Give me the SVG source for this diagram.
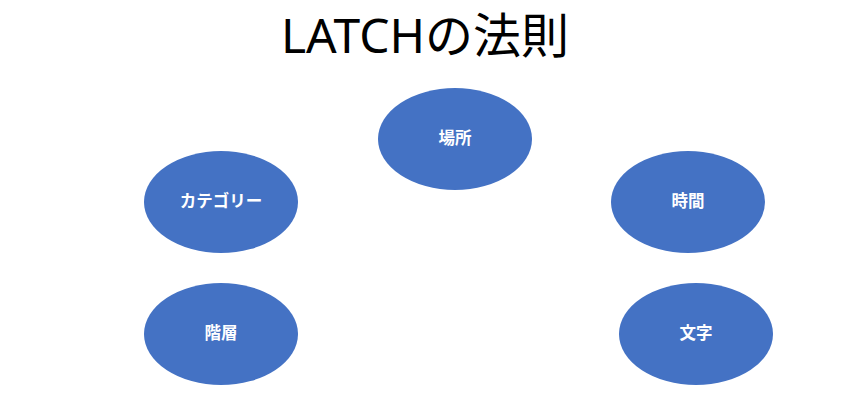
<svg xmlns="http://www.w3.org/2000/svg" width="850" height="400" viewBox="0 0 850 400">
<style>
.n{fill:#4472C4;}
.t{fill:#FFFFFF;font-family:"Noto Sans CJK JP","Noto Sans",sans-serif;font-size:16.5px;font-weight:bold;text-anchor:middle;dominant-baseline:central;}
.title{fill:#000000;font-family:"Noto Sans","Noto Sans CJK JP",sans-serif;font-size:48px;text-anchor:middle;}
</style>
<rect width="850" height="400" fill="#FFFFFF"/>
<text class="title" x="425" y="53">LATCHの法則</text>
<g id="connectors"></g>
<g id="node-basho"><ellipse class="n" cx="455" cy="139" rx="77" ry="51"/><text class="t" x="455" y="137">場所</text></g>
<g id="node-category"><ellipse class="n" cx="221" cy="202" rx="77" ry="51"/><text class="t" x="221" y="200">カテゴリー</text></g>
<g id="node-jikan"><ellipse class="n" cx="688" cy="202" rx="77" ry="51"/><text class="t" x="688" y="200">時間</text></g>
<g id="node-kaisou"><ellipse class="n" cx="221" cy="334" rx="77" ry="51"/><text class="t" x="221" y="332">階層</text></g>
<g id="node-moji"><ellipse class="n" cx="696" cy="334" rx="77" ry="51"/><text class="t" x="696" y="332">文字</text></g>
</svg>
